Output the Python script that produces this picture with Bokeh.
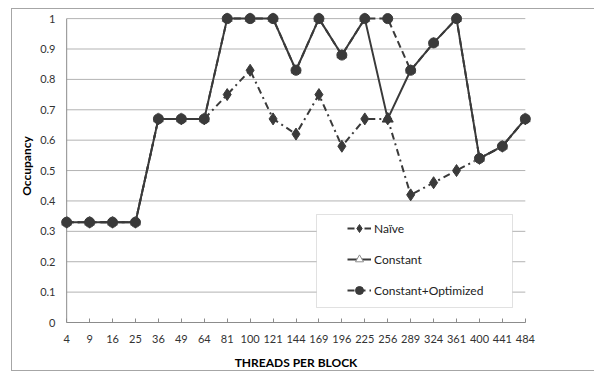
from bokeh.plotting import figure
from bokeh.models import FixedTicker, BoxAnnotation, Legend, LegendItem, CDSView, IndexFilter, ColumnDataSource
from bokeh.embed import file_html
from bokeh.resources import INLINE

categories = ["4", "9", "16", "25", "36", "49", "64", "81", "100", "121", "144",
              "169", "196", "225", "256", "289", "324", "361", "400", "441", "484"]
naive = [0.33, 0.33, 0.33, 0.33, 0.67, 0.67, 0.67, 0.75, 0.83, 0.67, 0.62,
         0.75, 0.58, 0.67, 0.67, 0.42, 0.46, 0.50, 0.54, 0.58, 0.67]
constant = [0.33, 0.33, 0.33, 0.33, 0.67, 0.67, 0.67, 1.00, 1.00, 1.00, 0.83,
            1.00, 0.88, 1.00, 0.67, 0.83, 0.92, 1.00, 0.54, 0.58, 0.67]
const_opt = [0.33, 0.33, 0.33, 0.33, 0.67, 0.67, 0.67, 1.00, 1.00, 1.00, 0.83,
             1.00, 0.88, 1.00, 1.00, 0.83, 0.92, 1.00, 0.54, 0.58, 0.67]
y_ticks = [0.0, 0.1, 0.2, 0.3, 0.4, 0.5, 0.6, 0.7, 0.8, 0.9, 1.0]

FONT = "Lato"
LINE = "#3a3a3a"
GRID = "#b3b3b3"
AXIS = "#8c8c8c"
BORDER = "1px solid #a6a6a6"

xs = list(range(len(categories)))
last = xs[-1]

p = figure(width=583, height=363, output_backend="svg", toolbar_location=None,
           x_range=(-0.4, last + 0.4), y_range=(0, 1.03),
           min_border_left=45, min_border_right=61, min_border_top=0, min_border_bottom=49)
p.margin = (8, 0, 0, 11)
p.styles = {"border-left": BORDER, "border-top": BORDER, "border-bottom": BORDER}
p.outline_line_color = None
p.background_fill_color = "white"
p.xgrid.visible = False
p.ygrid.visible = False

# horizontal gridlines limited to the category span
p.segment(x0=[xs[0]] * len(y_ticks), x1=[last] * len(y_ticks), y0=y_ticks, y1=y_ticks,
          line_color=GRID, line_width=1)
# y axis line at first category
p.segment(x0=[xs[0]], x1=[xs[0]], y0=[y_ticks[0]], y1=[y_ticks[-1]], line_color=AXIS, line_width=1)

const_src = ColumnDataSource(data=dict(x=xs, y=constant))
same_idx = [i for i in xs if constant[i] == const_opt[i]]
diff_idx = [i for i in xs if constant[i] != const_opt[i]]

# series
r_naive_l = p.line(xs, naive, line_color=LINE, line_width=2, line_dash="7 4 2 4")
r_naive_m = p.scatter(xs, naive, marker="diamond", size=12, fill_color=LINE, line_color=LINE)
r_const_l = p.line("x", "y", source=const_src, line_color=LINE, line_width=2)
r_const_m = p.scatter("x", "y", source=const_src, view=CDSView(filter=IndexFilter(same_idx)),
                      marker="triangle", size=10, fill_color="white",
                      line_color="#8c8c8c", line_width=1)
r_const_d = p.scatter("x", "y", source=const_src, view=CDSView(filter=IndexFilter(diff_idx)),
                      marker="triangle", size=11, fill_color=LINE,
                      line_color=LINE, line_width=1)
r_opt_l = p.line(xs, const_opt, line_color=LINE, line_width=2, line_dash="7 4")
r_opt_m = p.scatter(xs, const_opt, marker="circle", size=10, fill_color=LINE, line_color=LINE)

# axes
p.xaxis.ticker = FixedTicker(ticks=xs)
p.xaxis.major_label_overrides = {i: c for i, c in zip(xs, categories)}
p.xaxis.bounds = (xs[0], last)
p.xaxis.axis_line_color = AXIS
p.xaxis.major_tick_line_color = AXIS
p.xaxis.major_tick_in = 4
p.xaxis.major_tick_out = 0
p.xaxis.minor_tick_line_color = None
p.xaxis.minor_tick_out = 0
p.xaxis.major_label_standoff = 12
p.xaxis.axis_label = "THREADS PER BLOCK"
p.xaxis.axis_label_standoff = 9

p.yaxis.ticker = FixedTicker(ticks=y_ticks)
p.yaxis.major_label_overrides = {0: "0", 1: "1"}
p.yaxis.axis_line_color = None
p.yaxis.major_tick_line_color = None
p.yaxis.minor_tick_line_color = None
p.yaxis.major_tick_in = 0
p.yaxis.major_tick_out = 0
p.yaxis.minor_tick_in = 0
p.yaxis.minor_tick_out = 0
p.yaxis.major_label_standoff = 2
p.yaxis.axis_label = "Occupancy"
p.yaxis.axis_label_standoff = 3

for ax in (p.xaxis[0], p.yaxis[0]):
    ax.major_label_text_font = FONT
    ax.major_label_text_font_size = "11px"
    ax.major_label_text_color = "#333333"
    ax.axis_label_text_font = FONT
    ax.axis_label_text_font_size = "12px"
    ax.axis_label_text_font_style = "bold"
    ax.axis_label_text_color = "#000000"

# legend box (canvas coords, canvas starts at page x=12, y=9)
p.add_layout(BoxAnnotation(left=303, right=499, top=204, bottom=297,
                           left_units="canvas", right_units="canvas",
                           top_units="canvas", bottom_units="canvas",
                           fill_color="white", fill_alpha=1, line_color="#9a9a9a", line_width=1))

legend = Legend(items=[
    LegendItem(label="Naïve", renderers=[r_naive_l, r_naive_m]),
    LegendItem(label="Constant", renderers=[r_const_l, r_const_m]),
    LegendItem(label="Constant+Optimized", renderers=[r_opt_l, r_opt_m]),
], location=(285, 17), orientation="vertical")
legend.background_fill_alpha = 0
legend.border_line_alpha = 0
legend.padding = 5
legend.spacing = 11
legend.glyph_width = 24
legend.glyph_height = 20
legend.label_height = 20
legend.label_standoff = 3
legend.label_text_font = FONT
legend.label_text_font_size = "12px"
legend.label_text_color = "#222222"
legend.margin = 0
p.add_layout(legend, "center")

open("out.html", "w").write(file_html(p, INLINE))
